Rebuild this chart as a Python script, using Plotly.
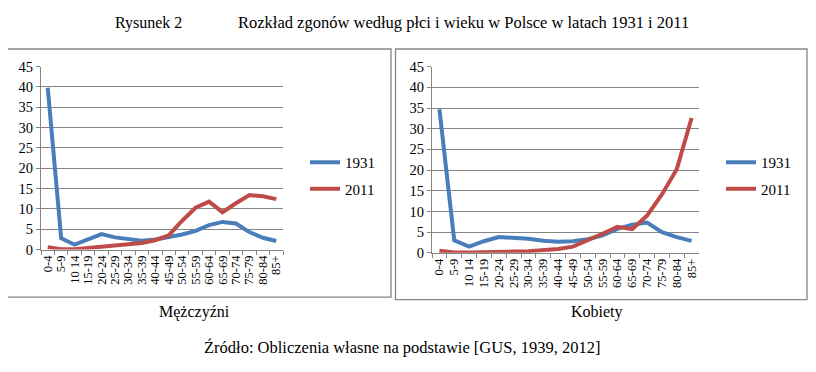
import plotly.graph_objects as go

# page body has an 8px default margin: the figure is sized to fit inside the window
OFF = 8
W, H = 816 - OFF, 372 - OFF

age_groups = ["0-4", "5-9", "10 14", "15-19", "20-24", "25-29", "30-34", "35-39",
              "40-44", "45-49", "50-54", "55-59", "60-64", "65-69", "70-74",
              "75-79", "80-84", "85+"]

men_1931 = [39.8, 2.8, 1.2, 2.4, 3.8, 3.0, 2.6, 2.2, 2.5, 3.0, 3.7, 4.6, 6.0, 6.8, 6.4, 4.3, 2.9, 2.1]
men_2011 = [0.6, 0.1, 0.1, 0.4, 0.8, 1.0, 1.2, 1.6, 2.3, 3.5, 7.1, 10.3, 11.8, 9.2, 11.4, 13.4, 13.1, 12.4]

women_1931 = [34.7, 3.0, 1.5, 2.8, 3.8, 3.7, 3.4, 2.9, 2.7, 2.8, 3.3, 4.2, 5.8, 6.8, 7.3, 5.0, 3.8, 2.9]
women_2011 = [0.5, 0.1, 0.1, 0.1, 0.2, 0.3, 0.4, 0.6, 0.9, 1.5, 3.0, 4.6, 6.3, 5.7, 9.0, 14.1, 20.2, 32.6]

y_ticks = [0, 5, 10, 15, 20, 25, 30, 35, 40, 45]

BLUE = "#4A7EBB"
RED = "#BE4B48"
FONT = "Liberation Serif, Times New Roman, serif"

def px_x(x):
    return (x - OFF) / W

def px_y(y):
    return 1 - (y - OFF) / H

fig = go.Figure()

fig.add_trace(go.Scatter(x=age_groups, y=men_1931, mode="lines", name="1931",
                         line=dict(color=BLUE, width=4), xaxis="x", yaxis="y",
                         legend="legend", legendgroup="a"))
fig.add_trace(go.Scatter(x=age_groups, y=men_2011, mode="lines", name="2011",
                         line=dict(color=RED, width=4), xaxis="x", yaxis="y",
                         legend="legend", legendgroup="b"))
fig.add_trace(go.Scatter(x=age_groups, y=women_1931, mode="lines", name="1931",
                         line=dict(color=BLUE, width=4), xaxis="x2", yaxis="y2",
                         legend="legend2", legendgroup="c"))
fig.add_trace(go.Scatter(x=age_groups, y=women_2011, mode="lines", name="2011",
                         line=dict(color=RED, width=4), xaxis="x2", yaxis="y2",
                         legend="legend2", legendgroup="d"))

xaxis_common = dict(type="category", categoryorder="array", categoryarray=age_groups,
                    range=[-0.5, len(age_groups) - 0.5], tickangle=-90,
                    tickmode="array", tickvals=age_groups, ticktext=age_groups,
                    showline=True, linecolor="#868686", linewidth=1,
                    ticks="outside", ticklen=4, tickcolor="#868686",
                    tickson="boundaries", showgrid=False, zeroline=False,
                    tickfont=dict(family=FONT, size=12.5, color="#000000"))
yaxis_common = dict(range=[0, 45], tickmode="array", tickvals=y_ticks, showline=True,
                    linecolor="#868686", linewidth=1, ticks="outside", ticklen=4,
                    tickcolor="#868686", showgrid=True, gridcolor="#868686",
                    gridwidth=1, zeroline=False,
                    tickfont=dict(family=FONT, size=14.5, color="#000000"))

fig.update_layout(
    width=W, height=H,
    margin=dict(l=0, r=0, t=0, b=0),
    paper_bgcolor="white", plot_bgcolor="white",
    font=dict(family=FONT, size=13, color="#000000"),
    xaxis=dict(domain=[px_x(41), px_x(283)], anchor="y", **xaxis_common),
    yaxis=dict(domain=[px_y(252.3), px_y(61)], anchor="x", **yaxis_common),
    xaxis2=dict(domain=[px_x(432), px_x(699)], anchor="y2", **xaxis_common),
    yaxis2=dict(domain=[px_y(255.7), px_y(61)], anchor="x2", **yaxis_common),
    legend=dict(x=px_x(305), y=px_y(144), xanchor="left", yanchor="top",
                bgcolor="rgba(0,0,0,0)", traceorder="grouped", tracegroupgap=4,
                font=dict(family=FONT, size=15), itemwidth=30),
    legend2=dict(x=px_x(721), y=px_y(144), xanchor="left", yanchor="top",
                 bgcolor="rgba(0,0,0,0)", traceorder="grouped", tracegroupgap=4,
                 font=dict(family=FONT, size=15), itemwidth=30),
    showlegend=True,
)

# chart frames
fig.add_shape(type="rect", xref="paper", yref="paper",
              x0=px_x(5), x1=px_x(391), y0=px_y(302), y1=px_y(42.5),
              line=dict(color="#868686", width=1.3))
fig.add_shape(type="rect", xref="paper", yref="paper",
              x0=px_x(395.5), x1=px_x(807), y0=px_y(304.7), y1=px_y(42.5),
              line=dict(color="#868686", width=1.3))

ann = [
    dict(text="Rysunek 2", x=px_x(148), y=px_y(15), size=16),
    dict(text="Rozkład zgonów według płci i wieku w Polsce w latach 1931 i 2011",
         x=px_x(464), y=px_y(15), size=16.5),
    dict(text="Mężczyźni", x=px_x(194), y=px_y(318), size=16),
    dict(text="Kobiety", x=px_x(597), y=px_y(318), size=16),
    dict(text="Źródło: Obliczenia własne na podstawie [GUS, 1939, 2012]",
         x=px_x(402), y=px_y(355), size=16.5),
]
for a in ann:
    fig.add_annotation(text=a["text"], x=a["x"], y=a["y"], xref="paper", yref="paper",
                       showarrow=False, xanchor="center", yanchor="middle",
                       font=dict(family=FONT, size=a["size"], color="#000000"))

fig.write_html("out.html")
